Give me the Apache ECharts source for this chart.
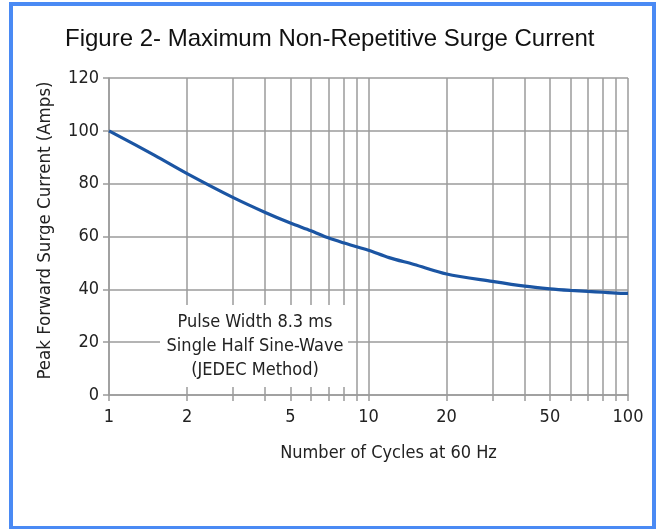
<!DOCTYPE html>
<html>
<head>
<meta charset="utf-8">
<title>Maximum Non-Repetitive Surge Current</title>
<script src="https://cdn.jsdelivr.net/npm/echarts@6/dist/echarts.min.js"></script>
<style>
  html, body { margin: 0; padding: 0; background: #fff; }
  #chart { width: 662px; height: 529px; }
</style>
</head>
<body>
<div id="chart"></div>
<script>
// number of cycles at 60 Hz (x) and peak surge current in amps (y)
var cycles = [1, 1.5, 2, 3, 4, 5, 6, 7, 8, 9, 10, 12, 15, 20, 30, 40, 50, 60, 70, 80, 90, 100];
var surgeAmps = [100, 90.7, 83.8, 74.8, 69.1, 65.1, 62.2, 59.5, 57.6, 56.1, 54.8, 52.0, 49.4, 45.8, 43.0, 41.2, 40.2, 39.6, 39.2, 38.9, 38.6, 38.5];
var xTickValues = [1, 2, 3, 4, 5, 6, 7, 8, 9, 10, 20, 30, 40, 50, 60, 70, 80, 90, 100];
var xLabelValues = [1, 2, 5, 10, 20, 50, 100];
var yTicks = [0, 20, 40, 60, 80, 100, 120];
var noteLines = ['Pulse Width 8.3 ms', 'Single Half Sine-Wave', '(JEDEC Method)'];

(function () {
  var GRID_COLOR = '#9b9b9b';
  var LABEL_FONT = "'Liberation Sans Narrow', 'DejaVu Sans Condensed', 'Liberation Sans', sans-serif";
  var chart = echarts.init(document.getElementById('chart'), null, { renderer: 'canvas' });

  var data = cycles.map(function (c, i) {
    return [c, surgeAmps[i]];
  });

  var option = {
    backgroundColor: '#fff',
    animation: false,
    title: {
      text: 'Figure 2- Maximum Non-Repetitive Surge Current',
      left: 60,
      top: 22,
      textStyle: {
        fontFamily: "'Liberation Sans', Arial, sans-serif",
        fontWeight: 'normal',
        fontSize: 24,
        color: '#111',
      },
    },
    grid: {
      left: 109,
      right: 34,
      top: 78,
      bottom: 134,
      containLabel: false,
    },
    xAxis: {
      type: 'log',
      logBase: 10,
      min: 1,
      max: 100,
      name: 'Number of Cycles at 60 Hz',
      nameLocation: 'middle',
      nameGap: 49,
      nameTextStyle: {
        fontFamily: LABEL_FONT,
        fontSize: 18,
        color: '#222',
        padding: [0, 0, 0, 40],
      },
      axisLine: { lineStyle: { color: GRID_COLOR, width: 1.5 } },
      axisTick: {
        show: true,
        length: 6,
        customValues: xTickValues,
        lineStyle: { color: GRID_COLOR, width: 1.5 },
      },
      axisLabel: {
        customValues: xLabelValues,
        fontFamily: LABEL_FONT,
        fontSize: 18,
        color: '#222',
        margin: 13,
      },
      splitLine: { show: true, lineStyle: { color: GRID_COLOR, width: 1.5 } },
      minorTick: { show: false },
    },
    yAxis: {
      type: 'value',
      min: yTicks[0],
      max: yTicks[yTicks.length - 1],
      interval: 20,
      name: 'Peak Forward Surge Current (Amps)',
      nameLocation: 'middle',
      nameGap: 54,
      nameTextStyle: {
        fontFamily: LABEL_FONT,
        fontSize: 18.5,
        color: '#222',
        padding: [0, 0, 0, 12],
      },
      axisLine: { show: true, lineStyle: { color: GRID_COLOR, width: 1.5 } },
      axisTick: { show: true, length: 6, lineStyle: { color: GRID_COLOR, width: 1.5 } },
      axisLabel: {
        fontFamily: LABEL_FONT,
        fontSize: 18,
        color: '#222',
        margin: 10,
      },
      splitLine: { show: true, lineStyle: { color: GRID_COLOR, width: 1.5 } },
    },
    series: [
      {
        name: 'Surge Current',
        type: 'line',
        data: data,
        smooth: 0.3,
        showSymbol: false,
        lineStyle: { color: '#1b55a3', width: 3.2 },
        z: 5,
      },
    ],
    graphic: [
      {
        type: 'rect',
        shape: { x: 160, y: 305, width: 188, height: 82 },
        style: { fill: '#fff' },
        z: 10,
      },
      {
        type: 'text',
        x: 255,
        y: 310,
        style: {
          text: noteLines.join('\n'),
          textAlign: 'center',
          fontFamily: LABEL_FONT,
          fontSize: 18,
          lineHeight: 24,
          fill: '#222',
        },
        z: 11,
      },
      {
        type: 'rect',
        shape: { x: 11, y: 4, width: 643, height: 524 },
        style: { fill: 'none', stroke: '#4a8af4', lineWidth: 4 },
        z: 20,
      },
    ],
  };

  chart.setOption(option);
})();
</script>
</body>
</html>
